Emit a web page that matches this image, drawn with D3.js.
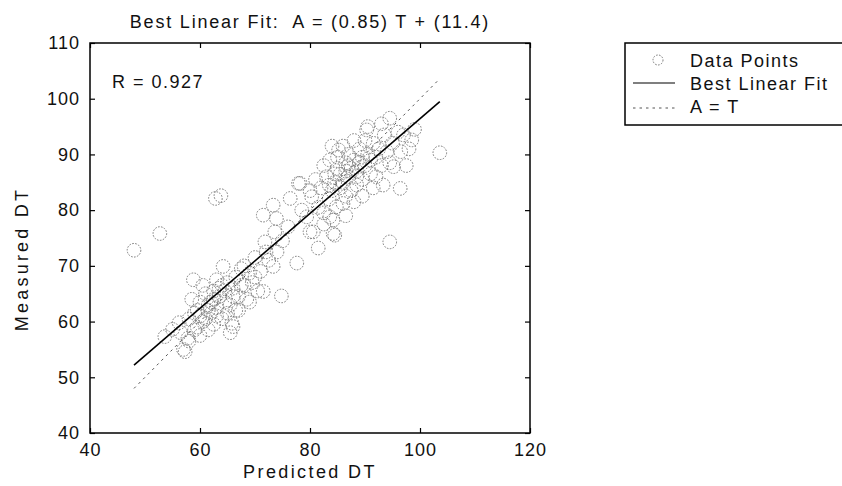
<!DOCTYPE html>
<html>
<head>
<meta charset="utf-8">
<script src="https://cdn.jsdelivr.net/npm/d3@7"></script>
<style>
  body { margin: 0; background: #fff; }
  text { font-family: "Liberation Sans", Arial, sans-serif; font-size: 18px; fill: #111; white-space: pre; }
</style>
</head>
<body>
<svg id="chart" width="842" height="486"></svg>
<script>
// predicted (T) values
var predicted = [
  48.0, 52.7, 62.8, 63.8, 94.5, 103.6,
  53.6, 55.0, 56.2, 57.0, 57.3, 57.8, 58.8, 58.0, 59.5, 59.0, 60.0, 60.5, 61.0, 61.5,
  62.0, 62.5, 63.0, 63.5, 64.2, 64.0, 64.5, 65.0, 65.5, 65.8, 66.0, 66.0, 66.5, 67.0,
  67.5, 68.0, 68.5, 69.0, 69.5, 70.0, 70.5, 71.0, 71.5, 72.0, 73.3, 74.8, 58.5, 60.0,
  61.5, 62.5, 63.0, 64.5, 66.5, 67.5, 68.0, 69.0, 70.0, 59.0, 60.5, 62.0, 56.5, 58.0,
  61.0, 65.0, 63.5, 66.0, 60.0, 61.5, 63.0, 64.0, 65.5, 67.0, 62.5, 59.5,
  71.5, 73.3, 73.9, 71.8, 73.6, 77.6, 76.4, 77.9, 80.3, 79.4, 84.2, 80.6, 84.5, 81.5,
  84.8, 75.0, 76.0, 78.5, 72.5, 74.0, 82.5, 83.5,
  94.5, 90.3, 98.5, 95.2, 93.3, 96.4, 85.2, 83.6, 78.2, 86.0, 83.6, 80.0, 84.2,
  82.0, 83.0, 84.0, 85.0, 86.0, 86.5, 87.0, 87.5, 88.0, 88.5, 89.0, 89.5, 90.0, 90.5,
  91.0, 91.5, 92.0, 92.5, 93.0, 93.5, 94.0, 95.0, 96.0, 97.0, 98.0, 99.0, 85.5, 86.5,
  87.0, 88.5, 84.5, 82.5, 81.0, 80.0, 89.0, 90.0, 91.0, 92.0, 94.5, 87.5, 85.0, 83.5,
  86.0, 88.0, 90.5, 96.5, 97.5, 93.0, 81.5, 82.5, 86.5, 88.0, 89.5, 84.0, 91.5,
  85.5, 87.0, 88.5, 89.5, 86.5, 84.5
];
// measured (A) values, same order
var measured = [
  72.8, 75.8, 82.1, 82.6, 74.3, 90.3,
  57.3, 58.6, 59.8, 55.0, 54.6, 57.0, 67.5, 60.5, 62.0, 58.5, 63.5, 60.0, 65.0, 58.5,
  61.5, 64.0, 62.5, 66.0, 69.9, 60.5, 63.5, 67.0, 58.0, 59.7, 59.1, 64.5, 68.0, 62.0,
  66.5, 70.0, 64.0, 68.7, 67.0, 71.5, 65.5, 69.0, 65.4, 72.5, 69.9, 64.6, 64.0, 57.5,
  62.0, 59.5, 67.5, 65.5, 62.0, 69.5, 66.5, 63.5, 68.0, 61.5, 66.5, 63.5, 58.0, 56.5,
  60.5, 61.5, 64.5, 66.0, 61.0, 63.0, 61.0, 66.5, 63.0, 64.5, 65.5, 59.0,
  79.1, 80.9, 78.5, 74.3, 76.1, 70.5, 82.1, 84.8, 82.4, 78.8, 78.2, 76.1, 75.5, 73.2,
  80.6, 74.5, 77.0, 80.0, 71.0, 72.5, 77.5, 82.0,
  96.5, 94.4, 92.6, 87.8, 84.5, 83.9, 90.8, 89.0, 84.8, 81.2, 78.8, 76.1, 75.8,
  84.0, 86.0, 83.5, 87.5, 85.0, 88.5, 86.0, 83.5, 89.0, 87.0, 91.0, 85.5, 88.0, 90.0,
  86.5, 92.0, 89.5, 91.0, 88.0, 93.5, 90.5, 92.0, 94.0, 93.5, 91.0, 94.5, 84.0, 82.5,
  90.0, 84.5, 86.5, 88.0, 85.5, 83.5, 88.5, 92.5, 89.0, 86.0, 88.5, 87.5, 89.5, 84.5,
  91.5, 92.5, 95.0, 90.5, 88.0, 95.5, 80.5, 79.5, 79.0, 81.5, 82.5, 91.5, 84.0,
  86.5, 88.0, 86.0, 89.5, 87.0, 85.0
];

var slope = 0.85, intercept = 11.4, rValue = 0.927;
var xTicks = [40, 60, 80, 100, 120];
var yTicks = [40, 50, 60, 70, 80, 90, 100, 110];
var legendLabels = ["Data Points", "Best Linear Fit", "A = T"];

var svg = d3.select("#chart");
// note: "top" is taken by window.top, so plot edges get their own names
var plotL = 90, plotR = 530, plotT = 43, plotB = 433;

var x = d3.scaleLinear().domain([40, 120]).range([plotL, plotR]);
var y = d3.scaleLinear().domain([40, 110]).range([plotB, plotT]);

var points = predicted.map(function(t, i) { return [t, measured[i]]; });
var tMin = d3.min(predicted), tMax = d3.max(predicted);

// scatter
svg.append("g")
  .selectAll("circle")
  .data(points)
  .enter().append("circle")
    .attr("cx", function(d) { return x(d[0]); })
    .attr("cy", function(d) { return y(d[1]); })
    .attr("r", 6.8)
    .attr("fill", "none")
    .attr("stroke", "#7a7a7a")
    .attr("stroke-width", 1)
    .attr("stroke-dasharray", "1.6,1.4");

// A = T
svg.append("line")
    .attr("x1", x(tMin)).attr("y1", y(tMin))
    .attr("x2", x(tMax)).attr("y2", y(tMax))
    .attr("stroke", "#555")
    .attr("stroke-width", 1)
    .attr("stroke-dasharray", "2.5,4");

// best linear fit
svg.append("line")
    .attr("x1", x(tMin)).attr("y1", y(slope * tMin + intercept))
    .attr("x2", x(tMax)).attr("y2", y(slope * tMax + intercept))
    .attr("stroke", "#000")
    .attr("stroke-width", 1.6);

// axes, ticks inside on all four sides
svg.append("g")
    .attr("transform", "translate(0," + plotB + ")")
    .call(d3.axisBottom(x).tickValues(xTicks).tickSizeInner(-5).tickSizeOuter(0).tickPadding(10));
svg.append("g")
    .attr("transform", "translate(0," + plotT + ")")
    .call(d3.axisTop(x).tickValues(xTicks).tickSizeInner(-5).tickSizeOuter(0).tickFormat(""));
svg.append("g")
    .attr("transform", "translate(" + plotL + ",0)")
    .call(d3.axisLeft(y).tickValues(yTicks).tickSizeInner(-5).tickSizeOuter(0).tickPadding(10));
svg.append("g")
    .attr("transform", "translate(" + plotR + ",0)")
    .call(d3.axisRight(y).tickValues(yTicks).tickSizeInner(-5).tickSizeOuter(0).tickFormat(""));

svg.selectAll(".domain").remove();
svg.selectAll(".tick line").attr("stroke", "#000").attr("stroke-width", 1.2);
svg.selectAll(".tick text")
    .style("font-family", "'Liberation Sans', Arial, sans-serif")
    .style("font-size", "18px")
    .style("letter-spacing", "1px")
    .attr("fill", "#111");

svg.append("rect")
    .attr("x", plotL).attr("y", plotT)
    .attr("width", plotR - plotL).attr("height", plotB - plotT)
    .attr("fill", "none")
    .attr("stroke", "#000")
    .attr("stroke-width", 1.5);

// texts
svg.append("text")
    .attr("x", (plotL + plotR) / 2).attr("y", 28)
    .attr("text-anchor", "middle")
    .style("letter-spacing", "1.8px")
    .text("Best Linear Fit:  A = (" + slope + ") T + (" + intercept + ")");

svg.append("text")
    .attr("x", 112).attr("y", 88)
    .style("letter-spacing", "1.5px")
    .text("R = " + rValue);

svg.append("text")
    .attr("x", (plotL + plotR) / 2).attr("y", 478)
    .attr("text-anchor", "middle")
    .style("letter-spacing", "2.4px")
    .text("Predicted DT");

svg.append("text")
    .attr("transform", "translate(28," + 259 + ") rotate(-90)")
    .attr("text-anchor", "middle")
    .style("letter-spacing", "3.2px")
    .text("Measured DT");

// legend
var legend = svg.append("g").attr("transform", "translate(625,43)");
legend.append("rect")
    .attr("width", 230).attr("height", 82)
    .attr("fill", "#fff")
    .attr("stroke", "#000")
    .attr("stroke-width", 1.5);

legend.selectAll("text.lab")
  .data(legendLabels)
  .enter().append("text")
    .attr("class", "lab")
    .attr("x", 65)
    .attr("y", function(d, i) { return 24 + i * 23; })
    .style("letter-spacing", "1.5px")
    .text(function(d) { return d; });

legend.append("circle")
    .attr("cx", 33).attr("cy", 17).attr("r", 5)
    .attr("fill", "none").attr("stroke", "#7a7a7a")
    .attr("stroke-dasharray", "1.6,1.4");
legend.append("line")
    .attr("x1", 8).attr("x2", 50).attr("y1", 40).attr("y2", 40)
    .attr("stroke", "#000").attr("stroke-width", 1.2);
legend.append("line")
    .attr("x1", 8).attr("x2", 50).attr("y1", 65).attr("y2", 65)
    .attr("stroke", "#555").attr("stroke-dasharray", "2.5,4");
</script>
</body>
</html>
